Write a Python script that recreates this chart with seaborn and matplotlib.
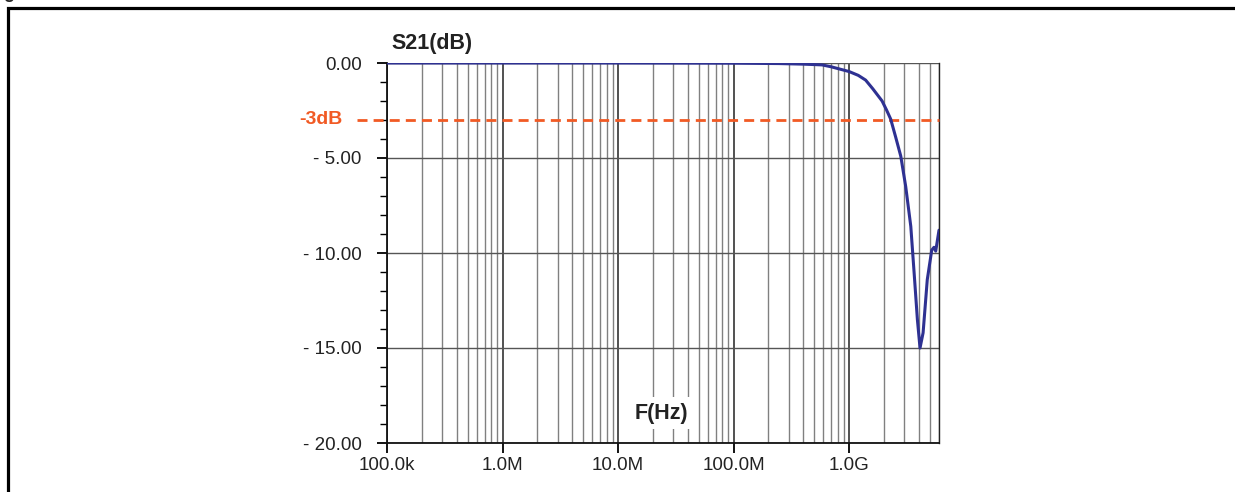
import matplotlib
matplotlib.use("Agg")
import matplotlib.pyplot as plt
import matplotlib.ticker as mticker
import numpy as np
import pandas as pd
import seaborn as sns

# S21 response
freq_hz = [1e5, 1e6, 1e7, 1e8, 2.48e8, 4e8, 5.84e8, 7e8, 1e9, 1.2e9, 1.39e9,
           1.6e9, 1.93e9, 2.1e9, 2.29e9, 2.53e9, 2.80e9, 3.09e9, 3.42e9,
           3.65e9, 3.90e9, 4.11e9, 4.37e9, 4.75e9, 5.19e9, 5.43e9, 5.62e9,
           6.0e9]
s21_db = [0.0, 0.0, 0.0, -0.01, -0.03, -0.06, -0.1, -0.2, -0.45, -0.65, -0.9,
          -1.35, -2.0, -2.45, -2.95, -3.9, -4.9, -6.5, -8.6,
          -11.0, -13.5, -15.0, -14.2, -11.4, -9.85, -9.7, -9.9,
          -8.8]

x_ticks = [1e5, 1e6, 1e7, 1e8, 1e9]
x_labels = ["100.0k", "1.0M", "10.0M", "100.0M", "1.0G"]
y_ticks = [0, -5, -10, -15, -20]
cutoff_db = -3

df = pd.DataFrame({"f": freq_hz, "s21": s21_db})

sns.set_style("white")
plt.rcParams["font.family"] = ["Liberation Sans", "DejaVu Sans"]

fig = plt.figure(figsize=(12.35, 4.92), dpi=100)
ax = fig.add_axes([387 / 1235, 1 - 443 / 492, (939 - 387) / 1235, (443 - 63) / 492])

# outer frame (cut off at right and bottom)
fig.patches.append(plt.Rectangle((8 / 1235, -0.1), 1.2, 1 - 8 / 492 + 0.1,
                                 transform=fig.transFigure, fill=False,
                                 edgecolor="black", linewidth=2.3))
fig.text(16 / 1235, 1 + 2 / 492, "Fig", ha="right", va="baseline",
         fontsize=13, fontweight="bold")

ax.set_xscale("log")
ax.set_xlim(1e5, 6e9)
ax.set_ylim(-20, 0)

# grid
ax.xaxis.set_minor_locator(mticker.LogLocator(base=10, subs=np.arange(2, 10)))
ax.grid(True, which="major", axis="x", color="#222222", linewidth=1.1)
ax.grid(True, which="minor", axis="x", color="#808080", linewidth=1.0)
ax.grid(True, which="major", axis="y", color="#555555", linewidth=1.0)
ax.set_axisbelow(True)

ax.axhline(cutoff_db, xmin=-0.054, xmax=1, color="#f15a24", linewidth=2.0,
           linestyle=(0, (3.6, 2.2)), clip_on=False, zorder=3)

sns.lineplot(data=df, x="f", y="s21", ax=ax, color="#2e3192", linewidth=2.2,
             zorder=4)

ax.set_xticks(x_ticks)
ax.set_xticklabels(x_labels)
ax.set_yticks(y_ticks)
ax.set_yticklabels(["0.00" if v == 0 else "- %.2f" % abs(v) for v in y_ticks])
ax.yaxis.set_minor_locator(mticker.MultipleLocator(1))
ax.xaxis.set_tick_params(which="minor", length=0)
ax.tick_params(axis="both", which="major", direction="out", length=7.2,
               width=1.3, color="black", labelsize=13.5, labelcolor="#222222",
               bottom=True, left=True)
ax.tick_params(axis="y", which="minor", direction="out", length=5, width=1.0,
               color="black", left=True)
ax.tick_params(axis="x", pad=3)
ax.tick_params(axis="y", pad=11)

for s in ["left", "bottom"]:
    ax.spines[s].set_color("#111111")
    ax.spines[s].set_linewidth(1.3)
ax.spines["top"].set_visible(False)
ax.spines["right"].set_visible(True)
ax.spines["right"].set_color("#222222")
ax.spines["right"].set_linewidth(1.0)

ax.set_xlabel("")
ax.set_ylabel("")

ax.text(-0.08, cutoff_db, "-3dB", transform=ax.get_yaxis_transform(),
        ha="right", va="center", color="#f15a24", fontsize=14,
        fontweight="bold")
ax.text(432 / 1235, 1 - 43 / 492, "S21(dB)", transform=fig.transFigure,
        ha="center", va="center", fontsize=15.5, fontweight="bold",
        color="#222222")
ax.text(661 / 1235, 1 - 413 / 492, "F(Hz)", transform=fig.transFigure,
        ha="center", va="center", fontsize=15.5, fontweight="bold",
        color="#222222", zorder=5,
        bbox=dict(facecolor="white", edgecolor="none", pad=4))

fig.savefig("out.png", dpi=100)
